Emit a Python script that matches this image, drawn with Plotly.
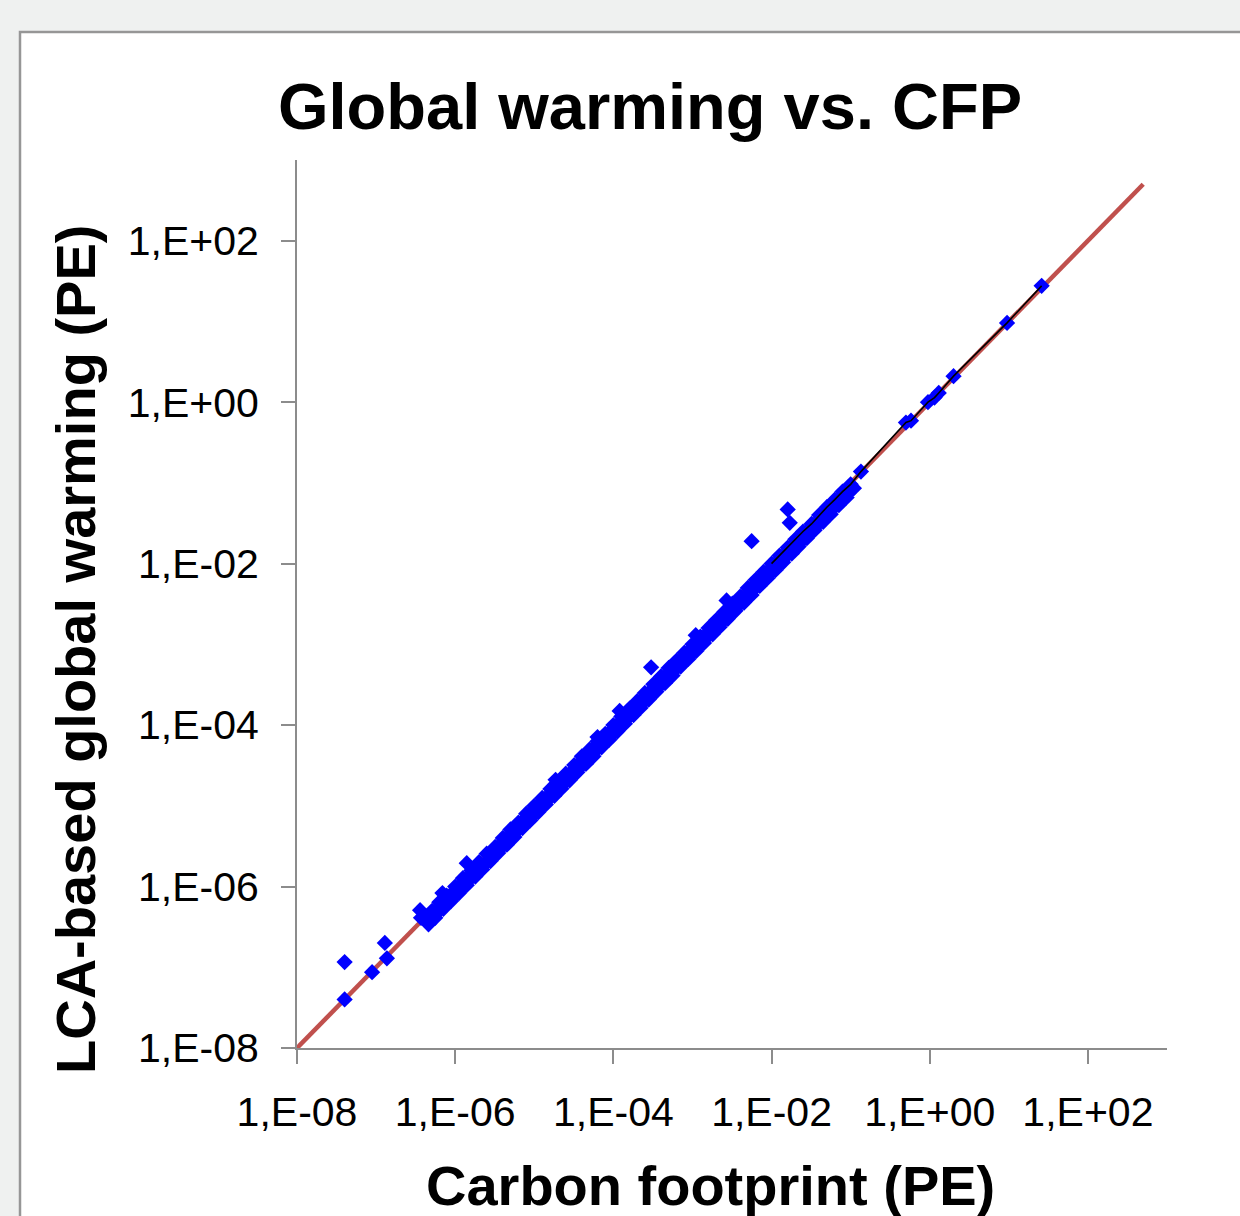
import plotly.graph_objects as go

# ---------------- data ----------------
# dense band, points on y = x
band_a_x = [4.2e-7, 5.1e-7, 6.3e-7, 7.8e-7, 1.0e-6, 1.25e-6, 1.6e-6, 2.0e-6, 2.5e-6, 3.2e-6,
            4.0e-6, 5.0e-6, 6.3e-6, 7.9e-6, 1.0e-5, 1.26e-5, 1.6e-5, 2.0e-5, 2.5e-5, 3.2e-5,
            4.0e-5, 5.0e-5, 6.3e-5, 7.9e-5, 1.0e-4, 1.26e-4, 1.6e-4, 2.0e-4, 2.5e-4, 3.2e-4,
            4.0e-4, 5.0e-4, 6.3e-4, 7.9e-4, 1.0e-3, 1.26e-3, 1.6e-3, 2.0e-3, 2.5e-3, 3.2e-3,
            4.0e-3, 5.0e-3, 6.3e-3, 7.9e-3, 1.0e-2, 1.26e-2, 1.6e-2, 2.0e-2, 2.5e-2, 3.2e-2,
            4.0e-2, 5.0e-2, 6.3e-2, 7.9e-2, 1.0e-1]
band_a_y = [4.3e-7, 5.0e-7, 6.4e-7, 7.7e-7, 1.0e-6, 1.27e-6, 1.58e-6, 2.0e-6, 2.55e-6, 3.1e-6,
            4.0e-6, 5.1e-6, 6.2e-6, 8.0e-6, 1.0e-5, 1.25e-5, 1.62e-5, 2.0e-5, 2.5e-5, 3.2e-5,
            4.1e-5, 5.0e-5, 6.3e-5, 7.8e-5, 1.0e-4, 1.28e-4, 1.6e-4, 1.98e-4, 2.5e-4, 3.2e-4,
            4.0e-4, 5.1e-4, 6.3e-4, 7.9e-4, 1.0e-3, 1.25e-3, 1.6e-3, 2.0e-3, 2.5e-3, 3.2e-3,
            3.9e-3, 5.0e-3, 6.3e-3, 7.9e-3, 1.0e-2, 1.26e-2, 1.58e-2, 2.0e-2, 2.5e-2, 3.1e-2,
            4.0e-2, 5.0e-2, 6.2e-2, 7.8e-2, 9.6e-2]

# dense band, points a little below y = x
band_c_x = [5.3e-7, 6.7e-7, 8.4e-7,
            1.06e-6, 1.33e-6, 1.68e-6, 2.1e-6, 2.7e-6, 3.35e-6, 4.2e-6, 5.3e-6, 6.7e-6, 8.4e-6,
            1.06e-5, 1.33e-5, 1.68e-5, 2.1e-5, 2.7e-5, 3.35e-5, 4.2e-5, 5.3e-5, 6.7e-5, 8.4e-5,
            1.06e-4, 1.33e-4, 1.68e-4, 2.1e-4, 2.7e-4, 3.35e-4, 4.2e-4, 5.3e-4, 6.7e-4, 8.4e-4,
            1.06e-3, 1.33e-3, 1.68e-3, 2.1e-3, 2.7e-3, 3.35e-3, 4.2e-3, 5.3e-3, 6.7e-3, 8.4e-3,
            1.06e-2, 1.33e-2, 1.68e-2, 2.1e-2, 2.7e-2, 3.35e-2, 4.2e-2, 5.3e-2, 6.7e-2, 8.4e-2]
band_c_y = [4.8e-7, 6.0e-7, 7.6e-7,
            9.5e-7, 1.2e-6, 1.5e-6, 1.9e-6, 2.4e-6, 3.0e-6, 3.8e-6, 4.8e-6, 6.0e-6, 7.6e-6,
            9.5e-6, 1.2e-5, 1.5e-5, 1.9e-5, 2.4e-5, 3.0e-5, 3.8e-5, 4.8e-5, 6.0e-5, 7.6e-5,
            9.5e-5, 1.2e-4, 1.5e-4, 1.9e-4, 2.4e-4, 3.0e-4, 3.8e-4, 4.8e-4, 6.0e-4, 7.6e-4,
            9.5e-4, 1.2e-3, 1.5e-3, 1.9e-3, 2.4e-3, 3.0e-3, 3.8e-3, 4.8e-3, 6.0e-3, 7.6e-3,
            9.5e-3, 1.2e-2, 1.5e-2, 1.9e-2, 2.4e-2, 3.0e-2, 3.8e-2, 4.8e-2, 6.0e-2, 7.6e-2]

band_d_x = [4.7e-7, 6.0e-7, 7.5e-7, 9.4e-7,
            1.19e-6, 1.5e-6, 1.88e-6, 2.4e-6, 3.0e-6, 3.8e-6, 4.7e-6, 6.0e-6, 7.5e-6, 9.4e-6,
            1.19e-5, 1.5e-5, 1.88e-5, 2.4e-5, 3.0e-5, 3.8e-5, 4.7e-5, 6.0e-5, 7.5e-5, 9.4e-5,
            1.19e-4, 1.5e-4, 1.88e-4, 2.4e-4, 3.0e-4, 3.8e-4, 4.7e-4, 6.0e-4, 7.5e-4, 9.4e-4,
            1.19e-3, 1.5e-3, 1.88e-3, 2.4e-3, 3.0e-3, 3.8e-3, 4.7e-3, 6.0e-3, 7.5e-3, 9.4e-3,
            1.19e-2, 1.5e-2, 1.88e-2, 2.4e-2, 3.0e-2, 3.8e-2, 4.7e-2, 6.0e-2, 7.5e-2, 9.4e-2]
band_d_y = [3.8e-7, 4.8e-7, 6.0e-7, 7.5e-7,
            9.5e-7, 1.2e-6, 1.5e-6, 1.9e-6, 2.4e-6, 3.0e-6, 3.8e-6, 4.8e-6, 6.0e-6, 7.5e-6,
            9.5e-6, 1.2e-5, 1.5e-5, 1.9e-5, 2.4e-5, 3.0e-5, 3.8e-5, 4.8e-5, 6.0e-5, 7.5e-5,
            9.5e-5, 1.2e-4, 1.5e-4, 1.9e-4, 2.4e-4, 3.0e-4, 3.8e-4, 4.8e-4, 6.0e-4, 7.5e-4,
            9.5e-4, 1.2e-3, 1.5e-3, 1.9e-3, 2.4e-3, 3.0e-3, 3.8e-3, 4.8e-3, 6.0e-3, 7.5e-3,
            9.5e-3, 1.2e-2, 1.5e-2, 1.9e-2, 2.4e-2, 3.0e-2, 3.8e-2, 4.8e-2, 6.0e-2, 7.5e-2]

# lower edge of the band
band_b_x = [4.6e-7, 5.6e-7, 7.1e-7, 8.9e-7, 1.12e-6, 1.4e-6, 1.8e-6, 2.2e-6, 2.8e-6, 3.5e-6,
            4.5e-6, 5.6e-6, 7.1e-6, 8.9e-6, 1.12e-5, 1.4e-5, 1.8e-5, 2.2e-5, 2.8e-5, 3.5e-5,
            4.5e-5, 5.6e-5, 7.1e-5, 8.9e-5, 1.12e-4, 1.4e-4, 1.8e-4, 2.2e-4, 2.8e-4, 3.5e-4,
            4.5e-4, 5.6e-4, 7.1e-4, 8.9e-4, 1.12e-3, 1.4e-3, 1.8e-3, 2.2e-3, 2.8e-3, 3.5e-3,
            4.5e-3, 5.6e-3, 7.1e-3, 8.9e-3, 1.12e-2, 1.4e-2, 1.8e-2, 2.2e-2, 2.8e-2, 3.5e-2,
            4.5e-2, 5.6e-2, 7.1e-2, 8.9e-2, 1.1e-1]
band_b_y = [3.4e-7, 4.1e-7, 5.3e-7, 6.6e-7, 8.3e-7, 1.04e-6, 1.33e-6, 1.63e-6, 2.07e-6, 2.6e-6,
            3.3e-6, 4.1e-6, 5.3e-6, 6.6e-6, 8.3e-6, 1.04e-5, 1.33e-5, 1.63e-5, 2.07e-5, 2.6e-5,
            3.3e-5, 4.1e-5, 5.3e-5, 6.6e-5, 8.3e-5, 1.04e-4, 1.33e-4, 1.63e-4, 2.07e-4, 2.6e-4,
            3.3e-4, 4.1e-4, 5.3e-4, 6.6e-4, 8.3e-4, 1.04e-3, 1.33e-3, 1.63e-3, 2.07e-3, 2.6e-3,
            3.3e-3, 4.1e-3, 5.3e-3, 6.6e-3, 8.3e-3, 1.04e-2, 1.33e-2, 1.63e-2, 2.07e-2, 2.6e-2,
            3.3e-2, 4.1e-2, 5.3e-2, 6.6e-2, 8.6e-2]

# scattered points off the band / at the low end
extra_x = [4.0e-8, 4.0e-8, 8.9e-8, 1.29e-7, 1.37e-7, 3.6e-7, 3.7e-7, 6.9e-7, 1.4e-6,
           1.86e-5, 6.3e-5, 1.2e-4, 3.0e-4, 1.1e-3, 2.7e-3, 5.6e-3, 1.6e-2, 1.7e-2]
extra_y = [1.16e-7, 4.0e-8, 8.7e-8, 2.0e-7, 1.29e-7, 5.1e-7, 4.1e-7, 8.3e-7, 1.95e-6,
           2.1e-5, 7.1e-5, 1.5e-4, 5.2e-4, 1.3e-3, 3.5e-3, 1.9e-2, 4.7e-2, 3.2e-2]

# largest values (upper right)
upper_x = [0.135, 0.50, 0.58, 0.95, 1.15, 1.3, 2.0, 9.5, 26.0]
upper_y = [0.138, 0.56, 0.59, 1.0, 1.14, 1.3, 2.1, 9.6, 27.6]

# 1:1 reference line
ref_x = [1e-8, 500.0]
ref_y = [1e-8, 500.0]

tick_vals = [1e-8, 1e-6, 1e-4, 1e-2, 1e0, 1e2]
tick_text = ["1,E-08", "1,E-06", "1,E-04", "1,E-02", "1,E+00", "1,E+02"]

# ---------------- figure ----------------
W, H = 1240, 1216
ml, mr, mt, mb = 297, 73, 160, 168
pw, ph = W - ml - mr, H - mt - mb


def px(xp):
    return (xp - ml) / pw


def py(yp):
    return (H - mb - yp) / ph


all_x = band_b_x + band_d_x + band_c_x + band_a_x + extra_x + upper_x
all_y = band_b_y + band_d_y + band_c_y + band_a_y + extra_y + upper_y

# black connecting line over the large values
line_pts = sorted([(x, y) for x, y in zip(band_a_x, band_a_y) if x >= 1e-2] +
                  list(zip(upper_x, upper_y)))
line_x = [p[0] for p in line_pts]
line_y = [p[1] for p in line_pts]

fig = go.Figure()
fig.add_trace(go.Scatter(x=ref_x, y=ref_y, mode="lines",
                         line=dict(color="#C0504D", width=4.5), showlegend=False))
fig.add_trace(go.Scatter(x=all_x, y=all_y, mode="markers",
                         marker=dict(symbol="diamond", size=12.5, color="#0000FF",
                                     line=dict(width=0)),
                         showlegend=False))
fig.add_trace(go.Scatter(x=line_x, y=line_y, mode="lines",
                         line=dict(color="#000000", width=1.6), showlegend=False))

FONT = "Liberation Sans, Arial, sans-serif"
axis_common = dict(
    type="log", range=[-8, 3],
    tickvals=tick_vals, ticktext=tick_text,
    showgrid=False, zeroline=False,
    showline=True, linecolor="#8C8C8C", linewidth=2,
    ticks="outside", ticklen=14, tickwidth=2, tickcolor="#8C8C8C",
    tickfont=dict(family=FONT, size=41, color="#000000"),
    automargin=False,
)

fig.update_layout(
    width=W, height=H,
    margin=dict(l=ml, r=mr, t=mt, b=mb, pad=0),
    paper_bgcolor="#EFF1F0",
    plot_bgcolor="#FFFFFF",
    title=dict(text="Global warming vs. CFP",
               font=dict(family=FONT, size=65, color="#000000", weight="bold"),
               x=650 / W, xanchor="center", xref="container",
               y=1 - 106 / H, yanchor="middle", yref="container"),
    xaxis=dict(**axis_common, ticklabelstandoff=13),
    yaxis=dict(**axis_common, ticklabelstandoff=14),
    annotations=[
        dict(text="Carbon footprint (PE)", xref="paper", yref="paper",
             x=px(710), y=py(1185), xanchor="center", yanchor="middle",
             showarrow=False,
             font=dict(family=FONT, size=56, color="#000000", weight="bold")),
        dict(text="LCA-based global warming (PE)", xref="paper", yref="paper",
             x=px(75), y=py(650), xanchor="center", yanchor="middle",
             textangle=-90, showarrow=False,
             font=dict(family=FONT, size=56, color="#000000", weight="bold")),
    ],
    shapes=[dict(type="rect", xref="paper", yref="paper", layer="below",
                 x0=px(20), x1=px(W + 40),
                 y0=py(H + 40), y1=py(32),
                 fillcolor="#FFFFFF", line=dict(color="#969696", width=2.5))],
)

fig.write_html("out.html",
               config={"displayModeBar": False},
               post_script="document.body.style.margin='0';"
                           "document.body.style.overflow='hidden';"
                           "document.body.style.background='#EFF1F0';")
